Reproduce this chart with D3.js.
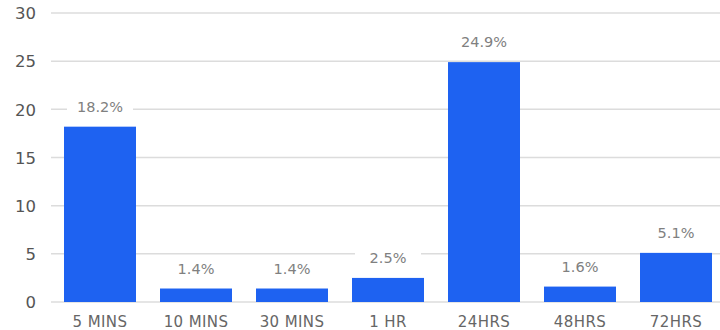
<!DOCTYPE html>
<html><head><meta charset="utf-8">
<script src="https://cdn.jsdelivr.net/npm/d3@7"></script>
<style>
html,body{margin:0;padding:0;background:#fff;}
svg{display:block;font-family:"DejaVu Sans",sans-serif;}
</style></head>
<body>
<svg id="chart" width="720" height="330"></svg>
<script>
const categories = ["5 MINS","10 MINS","30 MINS","1 HR","24HRS","48HRS","72HRS"];
const values = [18.2,1.4,1.4,2.5,24.9,1.6,5.1];
const yTicks = [0,5,10,15,20,25,30];

(function(){
const svg = d3.select("#chart");
const mLeft = 51, mRight = 720, mTop = 13, mBottom = 302;

const x = d3.scaleBand().domain(categories).range([52, 724]).paddingInner(0.25).paddingOuter(0.125);
const y = d3.scaleLinear().domain([0,30]).range([mBottom, mTop]);

// gridlines
svg.append("g").selectAll("line").data(yTicks).join("line")
  .attr("x1", mLeft).attr("x2", mRight)
  .attr("y1", d=>y(d)).attr("y2", d=>y(d))
  .attr("stroke", "#dcdcdc").attr("stroke-width", 1.5);

// y axis labels
const yAxis = d3.axisLeft(y).tickValues(yTicks).tickSize(0).tickPadding(0);
const gy = svg.append("g").attr("transform", `translate(36,0)`).call(yAxis);
gy.select(".domain").remove();
gy.selectAll("text").attr("fill","#555").attr("font-size","16.5px").attr("font-family","DejaVu Sans, sans-serif").attr("dy","0.35em");

// x axis labels
const xAxis = d3.axisBottom(x).tickSize(0).tickPadding(0);
const gx = svg.append("g").attr("transform", `translate(0,316)`).call(xAxis);
gx.select(".domain").remove();
gx.selectAll("text").attr("fill","#666").attr("font-size","15px").attr("letter-spacing","0.4px").attr("font-family","DejaVu Sans, sans-serif");

// bars
svg.append("g").selectAll("rect").data(values).join("rect")
  .attr("x", (d,i)=>x(categories[i]))
  .attr("width", x.bandwidth())
  .attr("y", d=>y(d))
  .attr("height", d=>y(0)-y(d))
  .attr("fill", "#1e62f1");

// value labels with white background
const lg = svg.append("g").selectAll("g").data(values).join("g")
  .attr("transform", (d,i)=>`translate(${x(categories[i])+x.bandwidth()/2},${y(d)-20})`);
lg.append("rect").attr("x",-33).attr("y",-10).attr("width",66).attr("height",20).attr("fill","#fff");
lg.append("text").attr("text-anchor","middle").attr("dy","0.35em")
  .attr("fill","#808080").attr("font-size","14.5px")
  .text(d=>d.toFixed(1)+"%");
})();
</script>
</body></html>
